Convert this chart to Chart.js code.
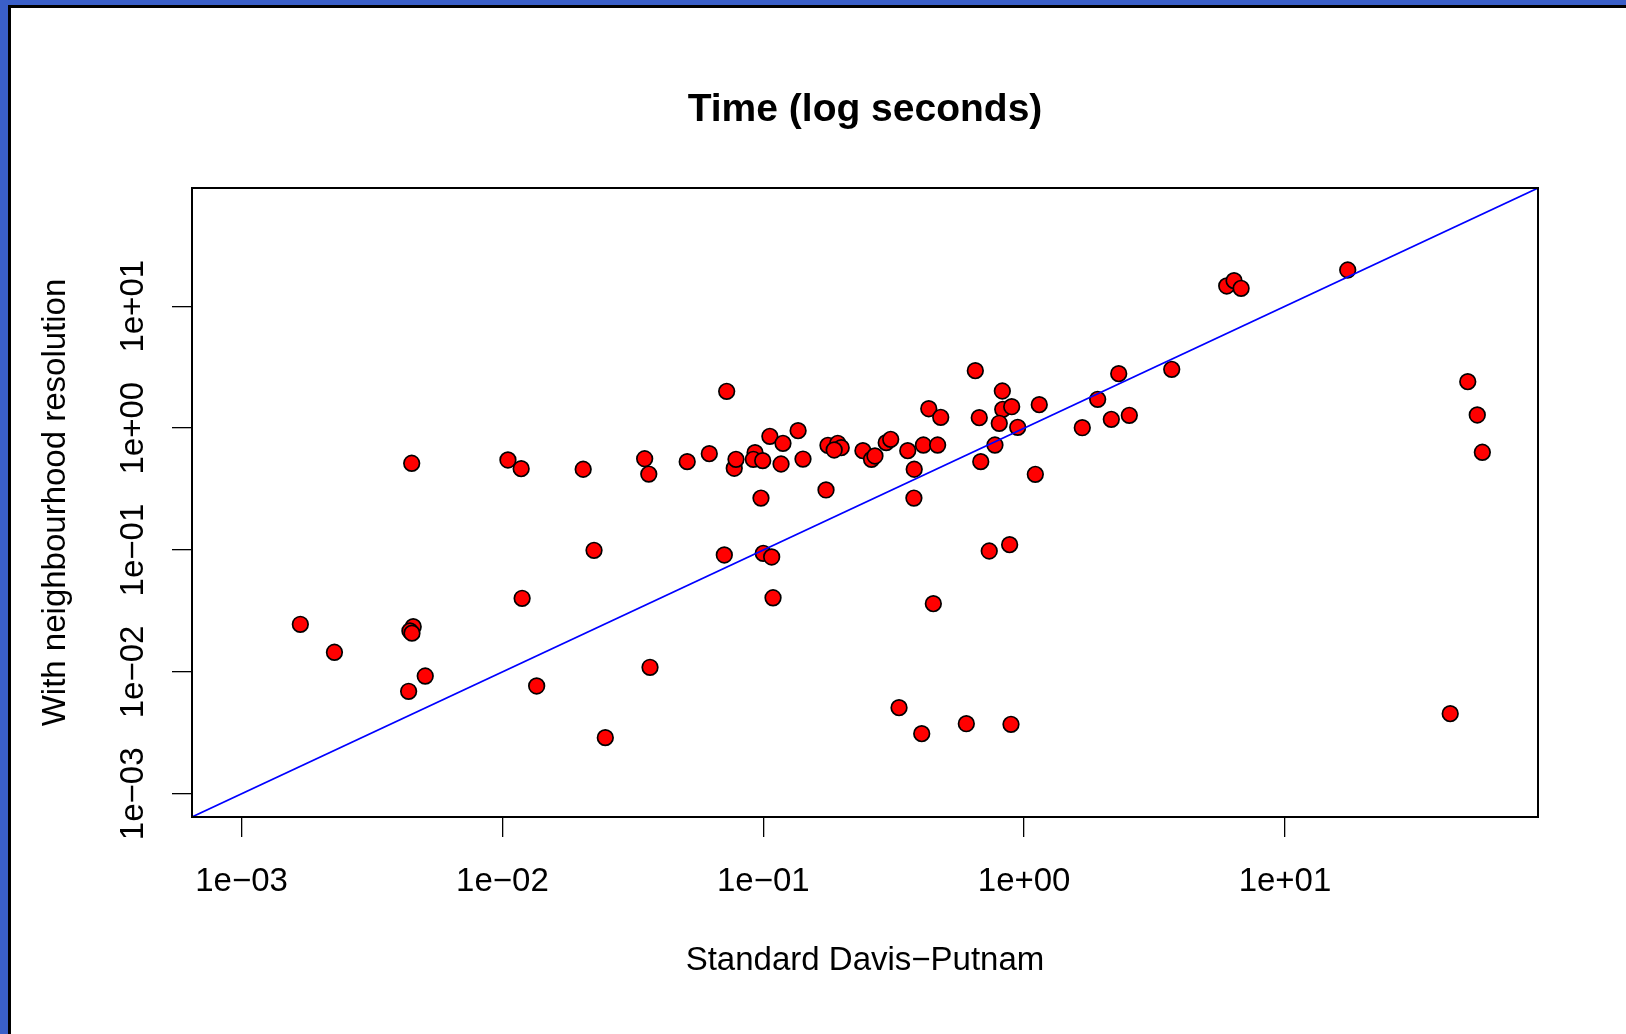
<!DOCTYPE html>
<html>
<head>
<meta charset="utf-8">
<title>Time (log seconds)</title>
<script src="https://cdn.jsdelivr.net/npm/chart.js@4.4.1/dist/chart.umd.min.js"></script>
<style>
  html, body { margin: 0; padding: 0; overflow: hidden; }
  body { background: #3a5fc8; width: 1626px; height: 1034px; }
  .panel {
    position: absolute; left: 8px; top: 5px; right: 0; bottom: 0;
    background: #fff; border-left: 3px solid #000; border-top: 3px solid #000;
  }
  #wrap { position: absolute; left: 0; top: 0; width: 1626px; height: 1034px; }
</style>
</head>
<body>
<div class="panel"></div>
<div id="wrap"><canvas id="timeChart"></canvas></div>
<script>
// Run times in seconds, one entry per problem
const standardDP = [
  0.00449, 0.0105, 0.0118, 0.0204, 0.0351, 0.0364, 0.0511, 0.0621, 0.0724, 0.0774,
  0.0786, 0.0930, 0.0916, 0.0995, 0.106, 0.119, 0.117, 0.136, 0.142, 0.098,
  0.174, 0.177, 0.193, 0.199, 0.187, 0.241, 0.260, 0.268, 0.296, 0.308,
  0.358, 0.379, 0.378, 0.411, 0.466, 0.431, 0.479, 0.650, 0.825, 0.828,
  0.896, 0.673, 0.803, 0.945, 1.143, 0.773, 0.682, 1.104, 1.671,
  17.4, 5.98, 6.38, 6.79, 2.305, 3.68, 1.914, 2.159, 2.531, 50.2, 54.6, 57.1,
  0.00168, 0.00227, 0.00455, 0.00442, 0.0045, 0.00506, 0.00437, 0.0119, 0.02245, 0.01353, 0.0248,
  0.0709, 0.1000, 0.1077, 0.109, 0.0368, 0.735, 0.880, 0.4487, 0.3315, 0.405, 0.6004, 0.8906,
  43.0
];
const neighbourRes = [
  0.515, 0.548, 0.465, 0.460, 0.561, 0.420, 0.531, 0.617, 2.005, 0.469,
  0.555, 0.629, 0.555, 0.541, 0.857, 0.751, 0.508, 0.953, 0.558, 0.267,
  0.311, 0.723, 0.751, 0.691, 0.662, 0.653, 0.555, 0.591, 0.760, 0.810,
  0.653, 0.460, 0.267, 0.727, 0.727, 1.443, 1.227, 2.96, 2.017, 1.427,
  1.499, 1.218, 1.096, 1.016, 1.557, 0.727, 0.531, 0.418, 1.008,
  19.83, 14.66, 16.20, 14.03, 2.797, 3.039, 1.724, 1.182, 1.274, 2.404, 1.282, 0.634,
  0.0246, 0.0145, 0.0235, 0.0217, 0.0208, 0.00926, 0.00694, 0.0402, 0.0995, 0.00767, 0.00289,
  0.0911, 0.0940, 0.0877, 0.0406, 0.01092, 0.0982, 0.1106, 0.0363, 0.00509, 0.003115, 0.00376, 0.00372,
  0.004545
];
const tickValues = [1e-3, 1e-2, 1e-1, 1, 10];
const tickLabels = ["1e\u221203", "1e\u221202", "1e\u221201", "1e+00", "1e+01"];
const axisMin = Math.pow(10, -3.19);
const axisMax = Math.pow(10, 1.97);

const points = standardDP.map((x, i) => ({ x: x, y: neighbourRes[i] }));
const diagonal = [{ x: axisMin, y: axisMin }, { x: axisMax, y: axisMax }];

const FONT = "'Liberation Sans', Arial, Helvetica, sans-serif";

// box around the plot region, like R's box()
const frameBox = {
  id: 'frameBox',
  afterDraw(chart) {
    const { ctx, chartArea: a } = chart;
    ctx.save();
    ctx.strokeStyle = '#000';
    ctx.lineWidth = 2;
    ctx.strokeRect(a.left, a.top, a.right - a.left, a.bottom - a.top);
    ctx.restore();
  }
};

function fixedTicks(scale) {
  scale.ticks = tickValues.map(v => ({ value: v }));
}

const ctx = document.getElementById('timeChart').getContext('2d');
new Chart(ctx, {
  type: 'scatter',
  data: {
    datasets: [
      {
        label: 'y = x',
        data: diagonal,
        showLine: true,
        borderColor: '#0000ff',
        borderWidth: 1.6,
        pointRadius: 0
      },
      {
        label: 'problems',
        data: points,
        backgroundColor: '#ff0000',
        borderColor: '#000000',
        borderWidth: 1.7,
        pointRadius: 7.8
      }
    ]
  },
  options: {
    responsive: true,
    maintainAspectRatio: false,
    animation: false,
    layout: { padding: { top: 0, left: 0, right: 88, bottom: 0 } },
    plugins: {
      legend: { display: false },
      tooltip: { enabled: false },
      title: {
        display: true,
        text: 'Time (log seconds)',
        fullSize: false,
        color: '#000',
        font: { family: FONT, size: 39, weight: 'bold' },
        padding: { top: 86.8, bottom: 54.4 }
      }
    },
    scales: {
      x: {
        type: 'logarithmic',
        bounds: 'data',
        min: axisMin,
        max: axisMax,
        afterBuildTicks: fixedTicks,
        afterFit: (s) => { s.height = 217; },
        border: { display: false },
        grid: { drawOnChartArea: false, drawTicks: true, tickLength: 20, color: '#000', lineWidth: 1.3 },
        ticks: {
          autoSkip: false,
          maxRotation: 0,
          padding: 25,
          color: '#000',
          font: { family: FONT, size: 33 },
          callback: (v, i) => tickLabels[i]
        },
        title: {
          display: true,
          text: 'Standard Davis\u2212Putnam',
          color: '#000',
          font: { family: FONT, size: 33 },
          padding: { top: 0, bottom: 53.6 }
        }
      },
      y: {
        type: 'logarithmic',
        bounds: 'data',
        min: axisMin,
        max: axisMax,
        afterBuildTicks: fixedTicks,
        afterFit: (s) => { s.width = 192; },
        border: { display: false },
        grid: { drawOnChartArea: false, drawTicks: true, tickLength: 20, color: '#000', lineWidth: 1.3 },
        ticks: {
          autoSkip: false,
          minRotation: 90,
          maxRotation: 90,
          crossAlign: 'center',
          padding: -8,
          color: '#000',
          font: { family: FONT, size: 33 },
          callback: (v, i) => tickLabels[i]
        },
        title: {
          display: true,
          text: 'With neighbourhood resolution',
          color: '#000',
          font: { family: FONT, size: 33 },
          padding: { top: 35.8, bottom: 0 }
        }
      }
    }
  },
  plugins: [frameBox]
});
</script>
</body>
</html>
